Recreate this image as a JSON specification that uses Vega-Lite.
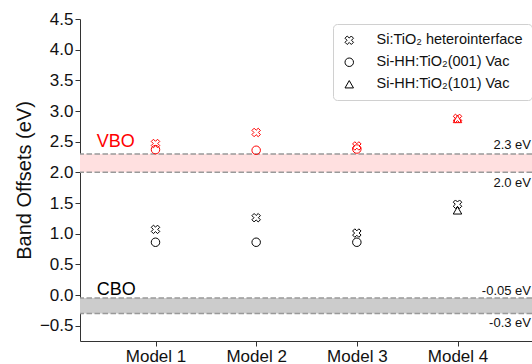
{
  "$schema": "https://vega.github.io/schema/vega-lite/v6.json",
  "width": 452,
  "height": 322,
  "autosize": {"type": "none"},
  "padding": {"left": 80, "top": 19, "right": 0, "bottom": 23},
  "background": "white",
  "config": {
    "font": "Liberation Sans",
    "view": {"stroke": null},
    "axis": {"grid": false, "domainColor": "#333", "tickColor": "#333", "labelColor": "#111", "titleColor": "#111", "labelFont": "Liberation Sans", "titleFont": "Liberation Sans", "titleFontWeight": "normal"}
  },
  "datasets": {
    "points": [
      {"model": 1, "value": 2.47, "structure": "Si:TiO₂ heterointerface", "band": "VBO"},
      {"model": 1, "value": 2.37, "structure": "Si-HH:TiO₂(001) Vac", "band": "VBO"},
      {"model": 1, "value": 1.07, "structure": "Si:TiO₂ heterointerface", "band": "CBO"},
      {"model": 1, "value": 0.86, "structure": "Si-HH:TiO₂(001) Vac", "band": "CBO"},
      {"model": 2, "value": 2.65, "structure": "Si:TiO₂ heterointerface", "band": "VBO"},
      {"model": 2, "value": 2.36, "structure": "Si-HH:TiO₂(001) Vac", "band": "VBO"},
      {"model": 2, "value": 1.26, "structure": "Si:TiO₂ heterointerface", "band": "CBO"},
      {"model": 2, "value": 0.86, "structure": "Si-HH:TiO₂(001) Vac", "band": "CBO"},
      {"model": 3, "value": 2.43, "structure": "Si:TiO₂ heterointerface", "band": "VBO"},
      {"model": 3, "value": 2.38, "structure": "Si-HH:TiO₂(001) Vac", "band": "VBO"},
      {"model": 3, "value": 1.01, "structure": "Si:TiO₂ heterointerface", "band": "CBO"},
      {"model": 3, "value": 0.86, "structure": "Si-HH:TiO₂(001) Vac", "band": "CBO"},
      {"model": 4, "value": 2.88, "structure": "Si:TiO₂ heterointerface", "band": "VBO"},
      {"model": 4, "value": 2.87, "structure": "Si-HH:TiO₂(101) Vac", "band": "VBO"},
      {"model": 4, "value": 1.48, "structure": "Si:TiO₂ heterointerface", "band": "CBO"},
      {"model": 4, "value": 1.38, "structure": "Si-HH:TiO₂(101) Vac", "band": "CBO"}
    ],
    "bands": [
      {"band": "VBO", "lo": 2.0, "hi": 2.3},
      {"band": "CBO", "lo": -0.3, "hi": -0.05}
    ],
    "lines": [
      {"level": 2.3}, {"level": 2.0}, {"level": -0.05}, {"level": -0.3}
    ],
    "bigLabels": [
      {"x": 0.416, "y": 2.41, "text": "VBO", "band": "VBO"},
      {"x": 0.416, "y": 0.0, "text": "CBO", "band": "CBO"}
    ],
    "levelLabels": [
      {"x": 4.73, "y": 2.384, "text": "2.3 eV"},
      {"x": 4.73, "y": 1.763, "text": "2.0 eV"},
      {"x": 4.73, "y": 0.007, "text": "-0.05 eV"},
      {"x": 4.73, "y": -0.516, "text": "-0.3 eV"}
    ]
  },
  "layer": [
    {
      "data": {"name": "bands"},
      "mark": {"type": "rect"},
      "encoding": {
        "y": {"field": "lo", "type": "quantitative", "scale": {"domain": [-0.75, 4.5], "nice": false, "zero": false},
              "axis": {"tickCount": 11, "labelExpr": "format(datum.value, '.1f')", "labelFontSize": 17, "tickSize": 5, "labelPadding": 2, "labelOverlap": false, "labelFlush": false, "labelSeparation": 0, "title": "Band Offsets (eV)", "titleFontSize": 20, "titlePadding": 5}},
        "y2": {"field": "hi"},
        "fill": {"field": "band", "type": "nominal", "scale": {"domain": ["VBO", "CBO"], "range": ["#ffe0e0", "#cccccc"]}, "legend": null}
      }
    },
    {
      "data": {"name": "lines"},
      "mark": {"type": "rule", "color": "#999999", "strokeWidth": 1.5, "strokeDash": [5.5, 2.5]},
      "encoding": {"y": {"field": "level", "type": "quantitative"}}
    },
    {
      "data": {"name": "points"},
      "mark": {"type": "point", "filled": false, "size": 72, "strokeWidth": 1, "opacity": 1},
      "encoding": {
        "x": {"field": "model", "type": "quantitative", "scale": {"domain": [0.25, 4.74], "nice": false, "zero": false},
              "axis": {"values": [1, 2, 3, 4], "labelExpr": "'Model ' + datum.value", "labelFontSize": 17, "tickSize": 5, "labelPadding": 2, "title": null}},
        "y": {"field": "value", "type": "quantitative"},
        "color": {"field": "band", "type": "nominal", "scale": {"domain": ["VBO", "CBO"], "range": ["#ff0000", "#000000"]}, "legend": null},
        "shape": {"field": "structure", "type": "nominal",
                  "scale": {"domain": ["Si:TiO₂ heterointerface", "Si-HH:TiO₂(001) Vac", "Si-HH:TiO₂(101) Vac"],
                            "range": ["M0.48,-1L1,-0.48L0.52,0L1,0.48L0.48,1L0,0.52L-0.48,1L-1,0.48L-0.52,0L-1,-0.48L-0.48,-1L0,-0.52Z", "circle", "triangle-up"]},
                  "legend": {"title": null, "orient": "none", "legendX": 253, "legendY": 5, "labelFontSize": 14.5, "labelColor": "#111",
                             "symbolStrokeColor": "#000", "symbolFillColor": "transparent", "symbolSize": 72, "symbolStrokeWidth": 1,
                             "strokeColor": "#d0d0d0", "fillColor": "white", "cornerRadius": 4, "padding": 9, "rowPadding": 7, "labelOffset": 20}}
      }
    },
    {
      "data": {"name": "bigLabels"},
      "mark": {"type": "text", "align": "left", "baseline": "alphabetic", "fontSize": 18},
      "encoding": {
        "x": {"field": "x", "type": "quantitative"},
        "y": {"field": "y", "type": "quantitative"},
        "text": {"field": "text"},
        "color": {"field": "band", "type": "nominal", "scale": {"domain": ["VBO", "CBO"], "range": ["#ff0000", "#000000"]}, "legend": null}
      }
    },
    {
      "data": {"name": "levelLabels"},
      "mark": {"type": "text", "align": "right", "baseline": "alphabetic", "fontSize": 13, "color": "#111"},
      "encoding": {
        "x": {"field": "x", "type": "quantitative"},
        "y": {"field": "y", "type": "quantitative"},
        "text": {"field": "text"}
      }
    }
  ]
}
